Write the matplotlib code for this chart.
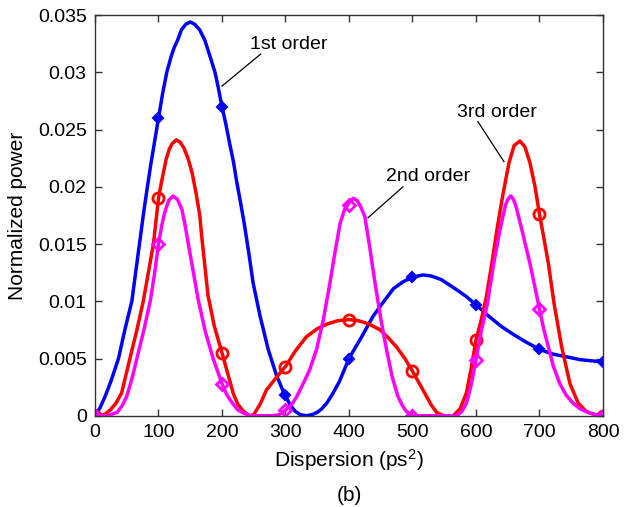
import matplotlib
matplotlib.use('Agg')
import matplotlib.pyplot as plt
from matplotlib.ticker import FuncFormatter, MultipleLocator

plt.rcParams['font.family'] = ['Liberation Sans', 'DejaVu Sans']
plt.rcParams['mathtext.fontset'] = 'custom'
plt.rcParams['mathtext.rm'] = 'Liberation Sans'
plt.rcParams['mathtext.it'] = 'Liberation Sans:italic'

# curves (dispersion in ps^2, normalized power)
first_x = [0, 8, 16, 25, 37, 47, 58, 64, 70, 76, 82, 88, 94, 100, 106, 113, 120, 125,
           130, 136, 143, 150, 157, 165, 173, 180, 189, 194, 200, 206, 212, 218, 223,
           229, 235, 242, 249, 260, 273, 286, 299, 308, 315, 323, 333, 342, 350, 357,
           365, 373, 385, 400, 420, 438, 455, 470, 485, 500, 508, 517, 530, 545, 559,
           575, 585, 600, 620, 640, 659, 680, 700, 720, 738, 764, 800]
first_y = [0, 0.0007, 0.0017, 0.0030, 0.0050, 0.0075, 0.0100, 0.0125, 0.0150, 0.0175,
           0.0198, 0.0220, 0.0240, 0.0260, 0.0280, 0.0300, 0.0314, 0.0322, 0.0328,
           0.0337, 0.0342, 0.0344, 0.0342, 0.0337, 0.0328, 0.0316, 0.0300, 0.0287,
           0.0270, 0.0255, 0.0238, 0.0222, 0.0205, 0.0187, 0.0168, 0.0143, 0.0116,
           0.0087, 0.00575, 0.0035, 0.0018, 0.0009, 0.0004, 0.0001, 0.0, 0.0001,
           0.0003, 0.0006, 0.0011, 0.0018, 0.0030, 0.0050, 0.0069, 0.0087, 0.0100,
           0.0111, 0.0117, 0.0121, 0.0122, 0.0123, 0.0122, 0.0119, 0.0114, 0.0108,
           0.0104, 0.0097, 0.0087, 0.0078, 0.0071, 0.0064, 0.0058, 0.0054, 0.0052,
           0.0049, 0.0047]

third_x = [0, 8, 15, 24, 33, 42, 55, 66, 76, 84, 92, 97, 100, 105, 112, 117, 122, 128,
           134, 140, 147, 153, 159, 165, 168, 178, 188, 200, 210, 218, 225, 232, 238,
           244, 250, 260, 270, 285, 300, 316, 333, 350, 365, 382, 400, 415, 432, 449,
           462, 475, 488, 500, 510, 520, 530, 538, 545, 550, 564, 575, 585, 592, 600,
           608, 616, 625, 633, 642, 652, 660, 669, 677, 685, 693, 700, 707, 714, 723,
           735, 748, 761, 774, 787, 800]
third_y = [0, 0.0, 0.0001, 0.0005, 0.0011, 0.0020, 0.0050, 0.0075, 0.0100, 0.0125,
           0.0150, 0.0175, 0.0190, 0.0205, 0.0224, 0.0233, 0.0238, 0.0241, 0.0239,
           0.0234, 0.0224, 0.0212, 0.0195, 0.0175, 0.0157, 0.0105, 0.0078, 0.0055,
           0.0035, 0.0019, 0.0010, 0.0005, 0.0002, 0.0, 0.0001, 0.0010, 0.00225,
           0.0033, 0.0043, 0.0057, 0.0069, 0.0076, 0.0080, 0.0083, 0.0084, 0.0083,
           0.0080, 0.0075, 0.0068, 0.0060, 0.0050, 0.0039, 0.0029, 0.0019, 0.0009,
           0.0003, 0.0001, 0.0, 0.0, 0.0006, 0.0020, 0.0040, 0.0066, 0.0083, 0.0103,
           0.0133, 0.01625, 0.0192, 0.0221, 0.0236, 0.0240, 0.0235, 0.0221, 0.0200,
           0.0176, 0.0155, 0.0133, 0.0098, 0.0060, 0.0028, 0.0011, 0.00035, 0.0001, 0]

second_x = [0, 20, 35, 43, 50, 58, 66, 77, 87, 94, 100, 105, 110, 116, 123, 130, 137,
            142, 147, 155, 163, 174, 186, 200, 207, 215, 225, 235, 245, 280, 290, 300,
            310, 318, 327, 338, 349, 360, 370, 378, 386, 393, 400, 407, 413, 419, 425,
            433, 441, 450, 459, 468, 477, 484, 490, 497, 500, 570, 578, 585, 592, 600,
            608, 618, 628, 638, 646, 650, 655, 659, 663, 667, 672, 685, 693, 700, 707,
            714, 722, 732, 742, 753, 764, 774, 787, 800]
second_y = [0, 0.0, 0.0003, 0.0009, 0.0017, 0.0032, 0.0050, 0.0075, 0.0100, 0.0125,
            0.0150, 0.0166, 0.0178, 0.0188, 0.0192, 0.0189, 0.0180, 0.0166, 0.0150,
            0.0125, 0.0100, 0.0073, 0.0050, 0.0028, 0.0019, 0.0012, 0.0005, 0.0002,
            0.0, 0.0, 0.0001, 0.0005, 0.0010, 0.0017, 0.0027, 0.0040, 0.0058, 0.0085,
            0.0116, 0.0143, 0.0168, 0.0180, 0.0186, 0.0190, 0.0188, 0.0182, 0.0174,
            0.0146, 0.0116, 0.0085, 0.0058, 0.0034, 0.0017, 0.0009, 0.0004, 0.0001,
            0.0, 0.0, 0.0004, 0.0011, 0.0026, 0.0049, 0.0073, 0.0098, 0.0133, 0.0163,
            0.0183, 0.0189, 0.0192, 0.0189, 0.0183, 0.0174, 0.0163, 0.0133, 0.0112,
            0.0093, 0.0075, 0.0060, 0.0043, 0.0028, 0.0018, 0.0011, 0.0006, 0.00035,
            0.0001, 0]

# marker samples every 100 ps^2
mark_x = [0, 100, 200, 300, 400, 500, 600, 700, 800]
first_m = [0, 0.026, 0.027, 0.0018, 0.005, 0.0121, 0.0097, 0.0058, 0.0047]
third_m = [0, 0.019, 0.0055, 0.0043, 0.0084, 0.0039, 0.0066, 0.0176, 0]
second_m = [0, 0.015, 0.0028, 0.0005, 0.0184, 0, 0.0049, 0.0093, 0]

# label text position, line start, line end
labels = ['1st order', '2nd order', '3rd order']
label_pos = [(244, 0.0324), (458, 0.0209), (570, 0.0265)]
line_from = [(261, 0.0316), (485, 0.0200), (603, 0.0257)]
line_to = [(200, 0.0288), (430, 0.0173), (644, 0.0222)]

fig = plt.figure(figsize=(6.38, 5.07), dpi=100)
ax = fig.add_axes([0.1489, 0.180, 0.7962, 0.7902])

lw = 2.5
ax.plot(first_x, first_y, color='#0000ff', lw=lw)
ax.plot(mark_x, first_m, 'D', color='#0000ff', ms=5.5, mew=1.5)
ax.plot(third_x, third_y, color='#ff0000', lw=lw)
ax.plot(mark_x, third_m, 'o', color='#ff0000', mfc='none', ms=8, mew=2)
ax.plot(second_x, second_y, color='#ff00ff', lw=lw)
ax.plot(mark_x, second_m, 'D', color='#ff00ff', mfc='none', ms=6, mew=2)

for t, p, a, b in zip(labels, label_pos, line_from, line_to):
    ax.text(p[0], p[1], t, fontsize=14, ha='left', va='center')
    ax.plot([a[0], b[0]], [a[1], b[1]], color='k', lw=0.9)

ax.set_xlim(0, 800)
ax.set_ylim(0, 0.035)
ax.xaxis.set_major_locator(MultipleLocator(100))
ax.yaxis.set_major_locator(MultipleLocator(0.005))
ax.yaxis.set_major_formatter(FuncFormatter(lambda v, p: '%g' % round(v, 4)))
ax.tick_params(direction='in', top=True, right=True, length=5, width=1,
               labelsize=14, color='#333333', pad=6)
for s in ax.spines.values():
    s.set_color('#333333')
    s.set_linewidth(1)

ax.set_xlabel('Dispersion (ps$^2$)', fontsize=15, labelpad=4)
ax.set_ylabel('Normalized power', fontsize=15, labelpad=8)
fig.text(0.548, 0.022, '(b)', fontsize=15, ha='center', va='center')

fig.savefig('out.png', dpi=100)
